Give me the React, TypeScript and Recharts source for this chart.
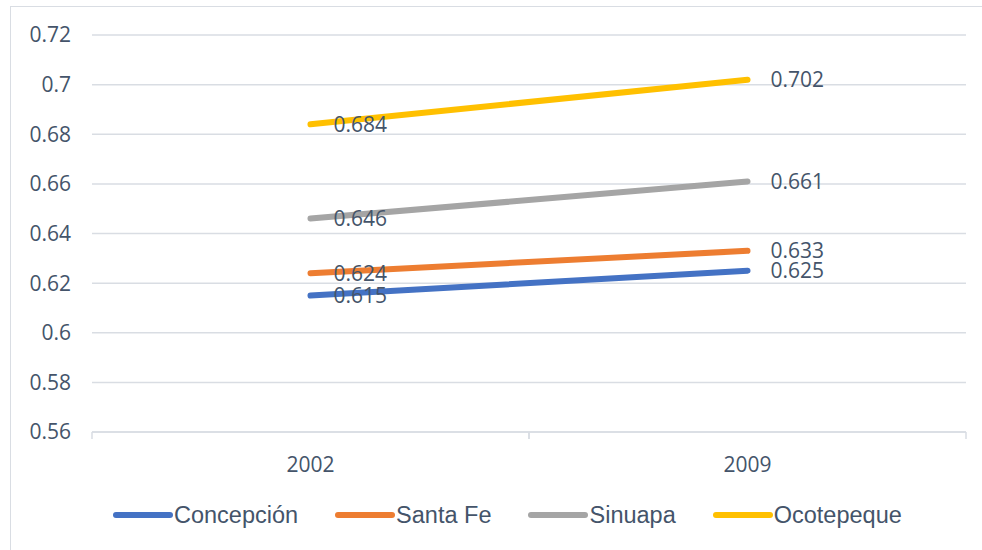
import React from "react";
import { LineChart, Line, XAxis, YAxis, CartesianGrid, LabelList } from "recharts";

const years = ["2002", "2009"];
const concepcion = [0.615, 0.625];
const santaFe = [0.624, 0.633];
const sinuapa = [0.646, 0.661];
const ocotepeque = [0.684, 0.702];
const yTicks = [0.56, 0.58, 0.6, 0.62, 0.64, 0.66, 0.68, 0.7, 0.72];

const series = [
  { key: "Concepción", values: concepcion, color: "#4472C4" },
  { key: "Santa Fe", values: santaFe, color: "#ED7D31" },
  { key: "Sinuapa", values: sinuapa, color: "#A5A5A5" },
  { key: "Ocotepeque", values: ocotepeque, color: "#FFC000" },
];

const data = years.map((y, i) => {
  const row: any = { year: y };
  series.forEach((s) => (row[s.key] = s.values[i]));
  return row;
});

const TEXT = "#44546A";
const GRID = "#D9DDE3";
const TICK_FONT = "'Open Sans', sans-serif";
const PLOT_LEFT = 92;
const PLOT_RIGHT = 966;

const XTick = (props: any) => {
  const { x, y, payload } = props;
  const half = (PLOT_RIGHT - PLOT_LEFT) / years.length / 2;
  return (
    <g>
      <line x1={x - half} y1={y} x2={x - half} y2={y + 7} stroke={GRID} strokeWidth={1.5} />
      <line x1={x + half} y1={y} x2={x + half} y2={y + 7} stroke={GRID} strokeWidth={1.5} />
      <text x={x} y={y + 32} textAnchor="middle" dominantBaseline="central" fill={TEXT} fontSize={21} fontFamily={TICK_FONT}>
        {payload.value}
      </text>
    </g>
  );
};

const LegendBox = () => {
  return (
    <div style={{ position: "absolute", left: 113, top: 501, display: "flex", alignItems: "center", gap: 37 }}>
      {series.map((p) => (
        <div key={p.key} style={{ display: "flex", alignItems: "center" }}>
          <svg width={60} height={10} style={{ marginRight: 1 }}>
            <line x1={3} y1={5} x2={57} y2={5} stroke={p.color} strokeWidth={6} strokeLinecap="round" />
          </svg>
          <span style={{ fontFamily: "'Liberation Sans', Arial, sans-serif", fontSize: 23.5, color: TEXT, lineHeight: "28px" }}>
            {p.key}
          </span>
        </div>
      ))}
    </div>
  );
};

export default function App() {
  return (
    <div style={{ position: "absolute", left: 0, top: 0, width: 982, height: 550, background: "#fff", overflow: "hidden" }}>
      <div style={{ position: "absolute", left: 10, top: 6, width: 1000, height: 600, border: "1.5px solid #D9DDE3", boxSizing: "border-box" }} />
      <div style={{ position: "absolute", left: 0, top: 0 }}>
        <LineChart width={982} height={550} data={data} margin={{ top: 35, right: 982 - PLOT_RIGHT, bottom: 88, left: 0 }}>
          <CartesianGrid vertical={false} stroke={GRID} strokeWidth={1.5} />
          <XAxis
            dataKey="year"
            scale="band"
            height={30}
            axisLine={{ stroke: GRID, strokeWidth: 1.5 }}
            tickLine={false}
            tickSize={0}
            tickMargin={0}
            tick={<XTick />}
            interval={0}
          />
          <YAxis
            width={PLOT_LEFT}
            domain={[0.56, 0.72]}
            ticks={yTicks}
            axisLine={false}
            tickLine={false}
            tickSize={0}
            tickMargin={21}
            interval={0}
            tick={{ fill: TEXT, fontSize: 21, fontFamily: TICK_FONT }}
          />
          {series.map((s) => (
            <Line
              key={s.key}
              dataKey={s.key}
              stroke={s.color}
              strokeWidth={6}
              strokeLinecap="round"
              dot={false}
              activeDot={false}
              isAnimationActive={false}
            >
              <LabelList
                dataKey={s.key}
                position="right"
                offset={23}
                fill={TEXT}
                fontSize={21}
                fontFamily={TICK_FONT}
              />
            </Line>
          ))}
        </LineChart>
      </div>
      <LegendBox />
    </div>
  );
}
